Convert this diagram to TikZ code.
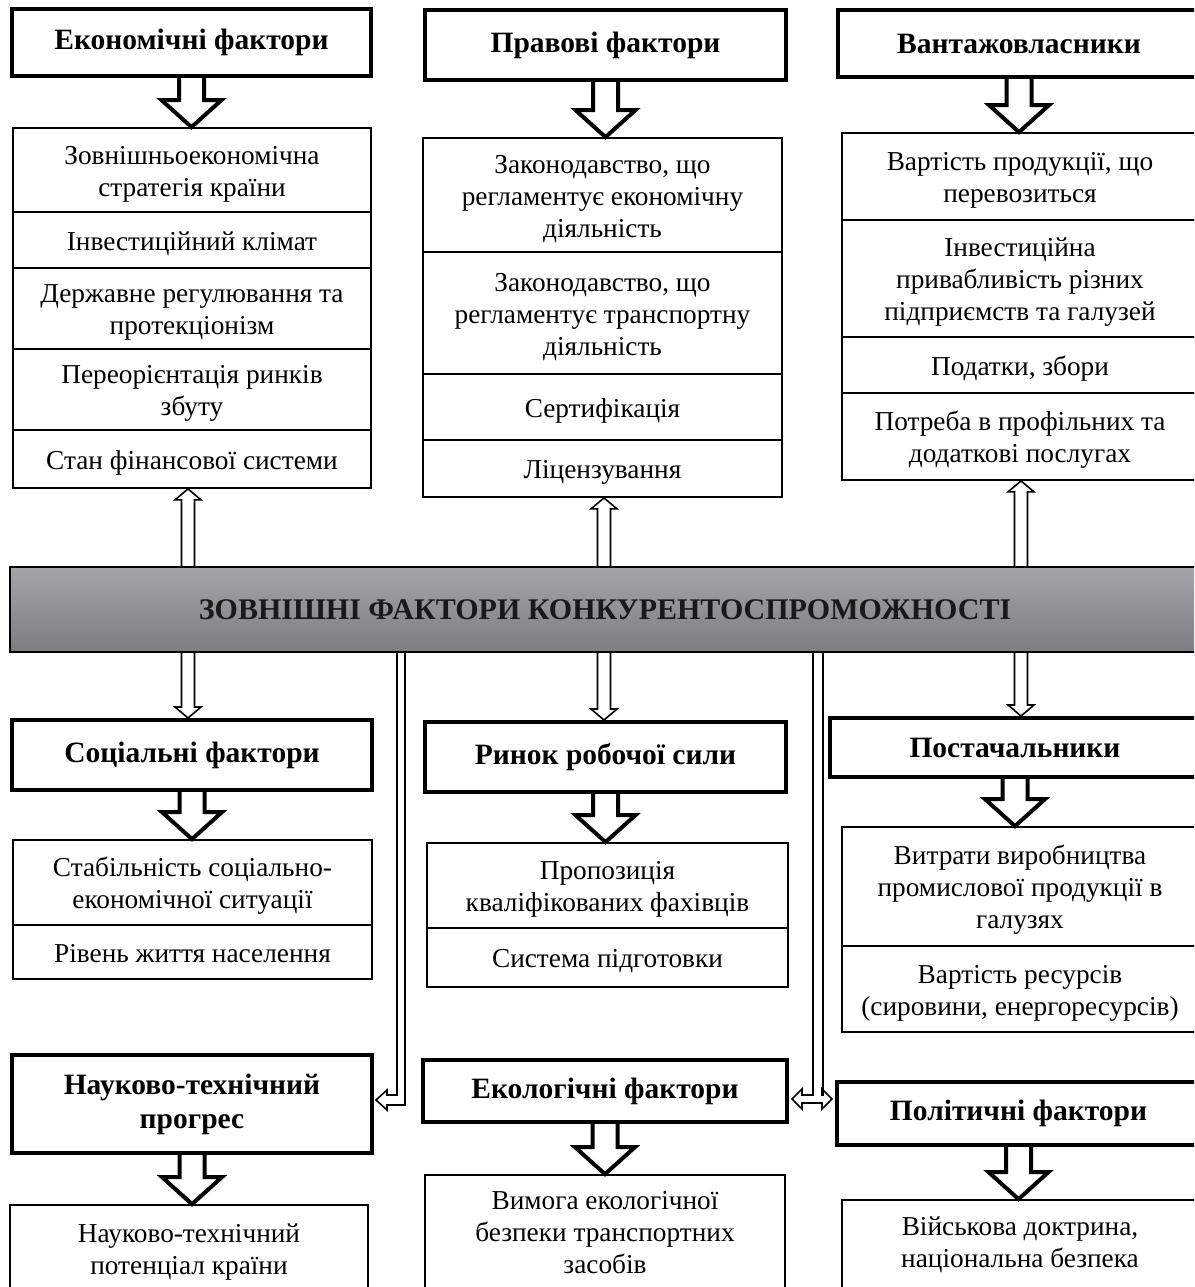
\documentclass[tikz,border=0pt]{standalone}
\usepackage{fontspec}
\setmainfont{Liberation Serif}
\usetikzlibrary{calc,shadings}
\definecolor{bantop}{HTML}{A4A5A8}
\definecolor{banbot}{HTML}{7C7D81}
\newcommand\lowtext[1]{\raisebox{-4pt}[\height][\depth]{\begin{tabular}{@{}c@{}}#1\end{tabular}}}
\tikzset{
  hdr/.style={draw, line width=4pt, align=center, inner sep=0pt, fill=white,
    font=\fontsize{29.5}{34}\selectfont\bfseries},
  itm/.style={draw, line width=1.8pt, align=center, inner sep=0pt,
    font=\fontsize{27.3}{32}\selectfont},
  bigarr/.style={line width=4pt, line join=miter},
  thinarr/.style={line width=1.6pt, line join=miter},
}
\newcommand\blockarr[6]{%
  \coordinate (bS) at (#2);
  \coordinate (bT) at (#3);
  \coordinate (bB) at ($(bT)!#6!(bS)$);
  \draw[#1] ($(bS)!#4!90:(bT)$) -- ($(bB)!#4!90:(bT)$) -- ($(bB)!#5!90:(bT)$)
    -- (bT) -- ($(bB)!#5!-90:(bT)$) -- ($(bB)!#4!-90:(bT)$) -- ($(bS)!#4!-90:(bT)$);
}
\begin{document}
\begin{tikzpicture}[x=1pt,y=-1pt]
\useasboundingbox (0,0) rectangle (1194,1287);
\clip (0,0) rectangle (1194,1287);

% ---------- column 1 top
\node[hdr, minimum width=359, minimum height=67] (h1) at (191.5,42.5) {Економічні фактори};
\node[itm, minimum width=358, minimum height=84] (e1) at (192,170) {\lowtext{Зовнішньоекономічна\\стратегія країни}};
\node[itm, minimum width=358, minimum height=56] (e2) at (192,240) {\lowtext{Інвестиційний клімат}};
\node[itm, minimum width=358, minimum height=81] (e3) at (192,308.5) {\lowtext{Державне регулювання та\\протекціонізм}};
\node[itm, minimum width=358, minimum height=81] (e4) at (192,389.5) {\lowtext{Переорієнтація ринків\\збуту}};
\node[itm, minimum width=358, minimum height=58] (e5) at (192,459) {\lowtext{Стан фінансової системи}};

% ---------- column 2 top
\node[hdr, minimum width=361, minimum height=70] (h2) at (605.5,45) {Правові фактори};
\node[itm, minimum width=359, minimum height=114] (p1) at (602.5,195) {\lowtext{Законодавство, що\\регламентує економічну\\діяльність}};
\node[itm, minimum width=359, minimum height=122] (p2) at (602.5,313) {\lowtext{Законодавство, що\\регламентує транспортну\\діяльність}};
\node[itm, minimum width=359, minimum height=66] (p3) at (602.5,407) {\lowtext{Сертифікація}};
\node[itm, minimum width=359, minimum height=57] (p4) at (602.5,468.5) {\lowtext{Ліцензування}};

% ---------- column 3 top
\node[hdr, minimum width=362, minimum height=67] (h3) at (1019,43.5) {Вантажовласники};
\node[itm, minimum width=356, minimum height=87] (v1) at (1020,176.5) {\lowtext{Вартість продукції, що\\перевозиться}};
\node[itm, minimum width=356, minimum height=117] (v2) at (1020,278.5) {\lowtext{Інвестиційна\\привабливість різних\\підприємств та галузей}};
\node[itm, minimum width=356, minimum height=56] (v3) at (1020,365) {\lowtext{Податки, збори}};
\node[itm, minimum width=356, minimum height=87] (v4) at (1020,436.5) {\lowtext{Потреба в профільних та\\додаткові послугах}};

% ---------- banner
\node[draw, line width=1.6pt, top color=bantop, bottom color=banbot,
  minimum width=1190, minimum height=85, inner sep=0pt,
  font=\fontsize{30}{35}\selectfont\bfseries, text=black!90] (banner) at (605,609.5)
  {ЗОВНІШНІ ФАКТОРИ КОНКУРЕНТОСПРОМОЖНОСТІ};

% ---------- row 2
\node[hdr, minimum width=360, minimum height=70] (soc) at (192,755) {Соціальні фактори};
\node[itm, minimum width=359, minimum height=85] (s1) at (192.5,882.5) {\lowtext{Стабільність соціально-\\економічної ситуації}};
\node[itm, minimum width=359, minimum height=54] (s2) at (192.5,952) {\lowtext{Рівень життя населення}};

\node[hdr, minimum width=361, minimum height=70] (ryn) at (605.5,757) {Ринок робочої сили};
\node[itm, minimum width=361, minimum height=85] (r1) at (607.5,885.5) {\lowtext{Пропозиція\\кваліфікованих фахівців}};
\node[itm, minimum width=361, minimum height=59] (r2) at (607.5,957.5) {\lowtext{Система підготовки}};

\node[hdr, minimum width=370, minimum height=59] (pos) at (1015,747.5) {Постачальники};
\node[itm, minimum width=356, minimum height=119] (q1) at (1020,886.5) {\lowtext{Витрати виробництва\\промислової продукції в\\галузях}};
\node[itm, minimum width=356, minimum height=86] (q2) at (1020,989) {\lowtext{Вартість ресурсів\\(сировини, енергоресурсів)}};

% ---------- row 3
\node[hdr, minimum width=360, minimum height=98] (ntp) at (192,1104) {Науково-технічний\\прогрес};
\node[itm, minimum width=358, minimum height=95] (n1) at (189,1252.5) {Науково-технічний\\потенціал країни};

\node[hdr, minimum width=364, minimum height=62] (eko) at (605,1091) {Екологічні фактори};
\node[itm, minimum width=360, minimum height=115] (k1) at (605,1232.5) {Вимога екологічної\\безпеки транспортних\\засобів};

\node[hdr, minimum width=363, minimum height=63] (pol) at (1018.5,1113.5) {Політичні фактори};
\node[itm, minimum width=356, minimum height=90] (m1) at (1020,1245) {Військова доктрина,\\національна безпека};

% ---------- big hollow arrows (header -> list)
\blockarr{bigarr}{h1.south}{h1.south |- e1.north}{12.5pt}{30pt}{27pt}
\blockarr{bigarr}{h2.south}{h2.south |- p1.north}{12.5pt}{30pt}{27pt}
\blockarr{bigarr}{h3.south}{h3.south |- v1.north}{12.5pt}{30pt}{27pt}
\blockarr{bigarr}{soc.south}{soc.south |- s1.north}{12.5pt}{30pt}{27pt}
\blockarr{bigarr}{ryn.south}{ryn.south |- r1.north}{12.5pt}{30pt}{27pt}
\blockarr{bigarr}{pos.south}{pos.south |- q1.north}{12.5pt}{30pt}{27pt}
\blockarr{bigarr}{ntp.south}{ntp.south |- n1.north}{12.5pt}{30pt}{27pt}
\blockarr{bigarr}{eko.south}{eko.south |- k1.north}{12.5pt}{30pt}{27pt}
\blockarr{bigarr}{pol.south}{pol.south |- m1.north}{12.5pt}{30pt}{27pt}

% ---------- thin hollow arrows from the banner
\coordinate (c1) at (188,0);
\coordinate (c2) at (604,0);
\coordinate (c3) at (1021,0);
\blockarr{thinarr}{banner.north -| c1}{e5.south -| c1}{6.5pt}{13pt}{11pt}
\blockarr{thinarr}{banner.north -| c2}{p4.south -| c2}{6.5pt}{13pt}{11pt}
\blockarr{thinarr}{banner.north -| c3}{v4.south -| c3}{6.5pt}{13pt}{11pt}
\blockarr{thinarr}{banner.south -| c1}{soc.north -| c1}{6.5pt}{13pt}{11pt}
\blockarr{thinarr}{banner.south -| c2}{ryn.north -| c2}{6.5pt}{13pt}{11pt}
\blockarr{thinarr}{banner.south -| c3}{pos.north -| c3}{6.5pt}{13pt}{11pt}

% ---------- double-line connectors
\coordinate (jL) at (401,1100);
\draw[thinarr] ($(banner.south -| jL)+(4,0)$) -- ($(jL)+(4,5)$)
  -- ($(ntp.east |- jL)+(13,5)$) -- ($(ntp.east |- jL)+(13,10)$)
  -- ($(ntp.east |- jL)+(2,0)$) -- ($(ntp.east |- jL)+(13,-10)$)
  -- ($(ntp.east |- jL)+(13,-5)$) -- ($(jL)+(-4,-5)$)
  -- ($(banner.south -| jL)+(-4,0)$);

\coordinate (jR) at (818,1099);
\draw[thinarr] ($(banner.south -| jR)+(-5,0)$) -- ($(jR)+(-5,-4)$)
  -- ($(eko.east |- jR)+(13,-4)$) -- ($(eko.east |- jR)+(13,-10)$)
  -- ($(eko.east |- jR)+(3,0)$) -- ($(eko.east |- jR)+(13,10)$)
  -- ($(eko.east |- jR)+(13,4)$) -- ($(pol.west |- jR)+(-13,4)$)
  -- ($(pol.west |- jR)+(-13,10)$) -- ($(pol.west |- jR)+(-3,0)$)
  -- ($(pol.west |- jR)+(-13,-10)$) -- ($(pol.west |- jR)+(-13,-4)$)
  -- ($(jR)+(5,-4)$) -- ($(banner.south -| jR)+(5,0)$);
\end{tikzpicture}
\end{document}
